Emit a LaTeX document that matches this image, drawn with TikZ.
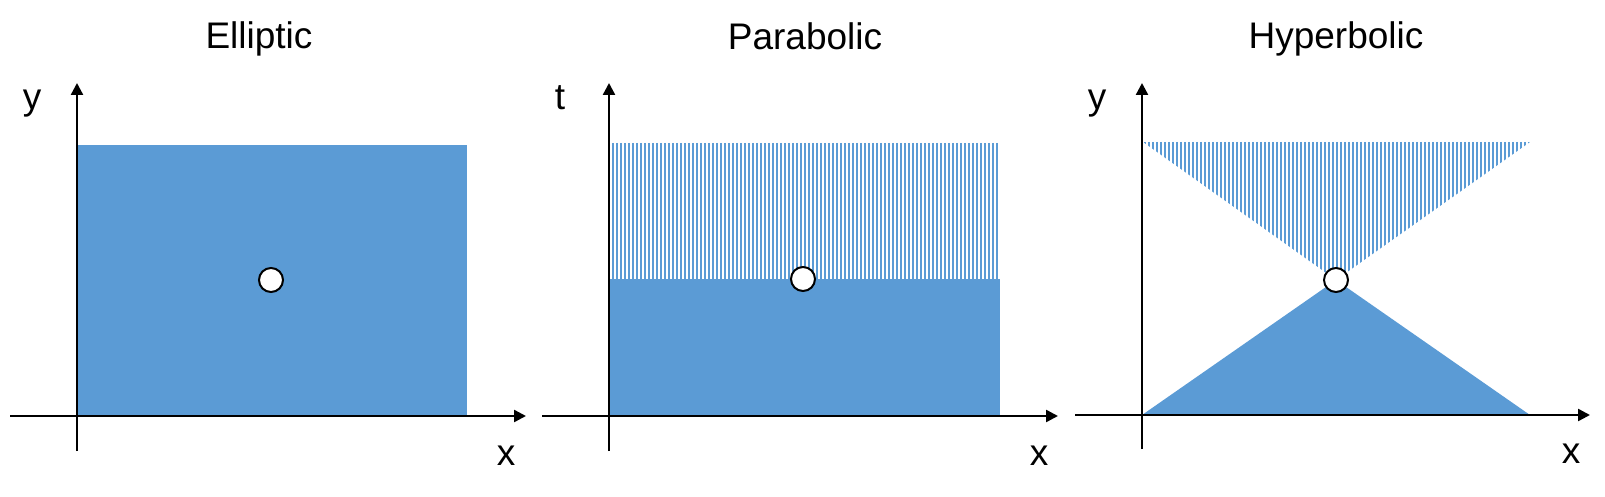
\documentclass[tikz,border=0pt]{standalone}
\usepackage{fontspec}
\setmainfont{Liberation Sans}
\usetikzlibrary{arrows.meta}
\definecolor{regionblue}{HTML}{5B9BD5}

\begin{document}
\begin{tikzpicture}[x=0.5pt,y=-0.5pt,
	axis/.style={line width=1.2pt,-{Triangle[length=6pt,width=6pt]}},
	stem/.style={line width=1.2pt},
	hatch/.style={regionblue,line width=1pt},
	point/.style={draw,circle,fill=white,line width=1pt,inner sep=0,outer sep=0,minimum size=12pt},
	label/.style={font=\fontsize{18.5}{22}\selectfont,anchor=base,inner sep=0}]
	\useasboundingbox (0,0) rectangle (1605,497);
	% Elliptic
	\fill[regionblue] (77,145) rectangle (467,416);
	\coordinate (e-x0) at (10,416);
	\coordinate (e-x1) at (526,416);
	\coordinate (e-y0) at (77,451);
	\coordinate (e-y1) at (77,83);
	\draw[stem] (e-y0) -- (77,416);
	\draw[axis] (77,416) -- (e-y1);
	\draw[axis] (e-x0) -- (e-x1);
	\node[point] (e-pt) at (271,280) {};
	\node[label] (e-title) at (259,49) {Elliptic};
	\node[label] (e-ylab) at (32,110) {y};
	\node[label] (e-xlab) at (506,465) {x};
	% Parabolic
	\begin{scope}
		\clip (611,143) rectangle (999,279);
		\foreach \i in {0,...,97}
			\draw[hatch] (613+4*\i,143) -- (613+4*\i,279);
	\end{scope}
	\fill[regionblue] (609,279) rectangle (1000,416);
	\coordinate (p-x0) at (542,416);
	\coordinate (p-x1) at (1058,416);
	\coordinate (p-y0) at (609,451);
	\coordinate (p-y1) at (609,83);
	\draw[stem] (p-y0) -- (609,416);
	\draw[axis] (609,416) -- (p-y1);
	\draw[axis] (p-x0) -- (p-x1);
	\node[point] (p-pt) at (803,279) {};
	\node[label] (p-title) at (805,50) {Parabolic};
	\node[label] (p-tlab) at (560,110) {t};
	\node[label] (p-xlab) at (1039,465) {x};
	% Hyperbolic
	\begin{scope}
		\clip (1143,142) -- (1530,142) -- (1336,280) -- cycle;
		\foreach \i in {0,...,96}
			\draw[hatch] (1145+4*\i,142) -- (1145+4*\i,280);
	\end{scope}
	\fill[regionblue] (1142,415) -- (1530,415) -- (1336,280) -- cycle;
	\coordinate (h-x0) at (1075,415);
	\coordinate (h-x1) at (1590,415);
	\coordinate (h-y0) at (1142,449);
	\coordinate (h-y1) at (1142,83);
	\draw[stem] (h-y0) -- (1142,415);
	\draw[axis] (1142,415) -- (h-y1);
	\draw[axis] (h-x0) -- (h-x1);
	\node[point] (h-pt) at (1336,280) {};
	\node[label] (h-title) at (1336,49) {Hyperbolic};
	\node[label] (h-ylab) at (1097,110) {y};
	\node[label] (h-xlab) at (1571,463) {x};
\end{tikzpicture}
\end{document}
